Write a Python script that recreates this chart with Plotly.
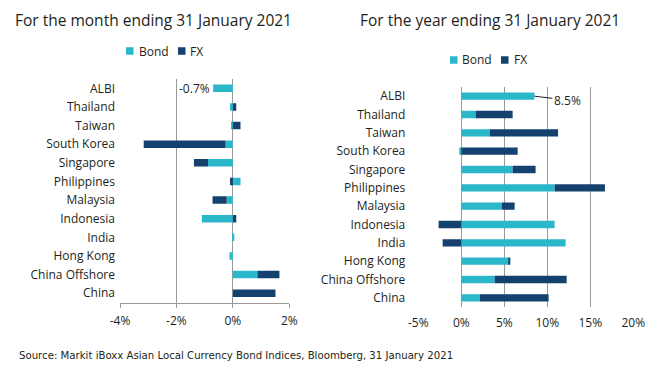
import plotly.graph_objects as go

categories = ["ALBI", "Thailand", "Taiwan", "South Korea", "Singapore", "Philippines",
              "Malaysia", "Indonesia", "India", "Hong Kong", "China Offshore", "China"]
month_bond = [-0.7, -0.1, -0.05, -0.26, -0.88, 0.27, -0.22, -1.1, 0.05, -0.12, 0.87, 0.0]
month_fx = [0.0, 0.12, 0.27, -2.9, -0.5, -0.1, -0.5, 0.12, 0.0, 0.0, 0.78, 1.51]
year_bond = [8.5, 1.67, 3.3, -0.15, 5.97, 10.85, 4.7, 10.85, 12.13, 5.54, 3.88, 2.17]
year_fx = [0.0, 4.3, 7.95, 6.55, 2.67, 5.85, 1.5, -2.64, -2.17, 0.1, 8.37, 7.98]
month_ticks = [-4, -2, 0, 2]
month_ticktext = ["-4%", "-2%", "0%", "2%"]
year_ticks = [-5, 0, 5, 10, 15, 20]
year_ticktext = ["-5%", "0%", "5%", "10%", "15%", "20%"]
series_names = ["Bond", "FX"]

BOND = "#2ab7ca"
FX = "#15416e"
TXT = "#231f20"
GRID = "#9a9a9a"
FONT = "Open Sans"
OFF = 8  # page body margin
W, H = 662 - OFF, 372 - OFF


def px(x):
    return (x - OFF) / W


def py(y):
    return 1 - (y - OFF) / H


fig = go.Figure()
fig.add_trace(go.Bar(y=categories, x=month_bond, orientation="h", name=series_names[0],
                     marker=dict(color=BOND, line=dict(width=0)), xaxis="x", yaxis="y", showlegend=False))
fig.add_trace(go.Bar(y=categories, x=month_fx, orientation="h", name=series_names[1],
                     marker=dict(color=FX, line=dict(width=0)), xaxis="x", yaxis="y", showlegend=False))
fig.add_trace(go.Bar(y=categories, x=year_bond, orientation="h", name=series_names[0],
                     marker=dict(color=BOND, line=dict(width=0)), xaxis="x2", yaxis="y2", showlegend=False))
fig.add_trace(go.Bar(y=categories, x=year_fx, orientation="h", name=series_names[1],
                     marker=dict(color=FX, line=dict(width=0)), xaxis="x2", yaxis="y2", showlegend=False))

tickfont = dict(family=FONT, size=12, color=TXT)
cat_range = [len(categories) - 0.5, -0.5]

# manual legends (small squares + labels)
shapes = []
annotations = []
legend_specs = [
    (126, 51, [(0, BOND, 11, series_names[0]), (52, FX, 62, series_names[1])]),
    (450, 60, [(0, BOND, 10, series_names[0]), (51, FX, 62, series_names[1])]),
]
for x0, yc, items in legend_specs:
    for dx, col, tx, name in items:
        shapes.append(dict(type="rect", xref="paper", yref="paper",
                           x0=px(x0 + dx), x1=px(x0 + dx + 7.5), y0=py(yc + 3.75), y1=py(yc - 3.75),
                           fillcolor=col, line=dict(width=0)))
        annotations.append(dict(text=name, x=px(x0 + tx), y=py(yc), xref="paper", yref="paper",
                                xanchor="left", yanchor="middle", showarrow=False,
                                font=dict(family=FONT, size=12, color=TXT)))

annotations += [
    dict(text="For the month ending 31 January 2021", x=px(14), y=py(8), xref="paper", yref="paper",
         xanchor="left", yanchor="top", borderpad=0, showarrow=False,
         font=dict(family=FONT, size=15.5, color=TXT)),
    dict(text="For the year ending 31 January 2021", x=px(359), y=py(8), xref="paper", yref="paper",
         xanchor="left", yanchor="top", borderpad=0, showarrow=False,
         font=dict(family=FONT, size=15.5, color=TXT)),
    dict(text="Source: Markit iBoxx Asian Local Currency Bond Indices, Bloomberg, 31 January 2021",
         x=px(17), y=py(355), xref="paper", yref="paper", xanchor="left", yanchor="middle",
         showarrow=False, font=dict(family="DejaVu Sans Condensed", size=11.3, color=TXT)),
    dict(text=f"{month_bond[0]:.1f}%", x=month_bond[0], y=categories[0], xref="x", yref="y",
         xanchor="right", yanchor="middle", xshift=-1, showarrow=False,
         font=dict(family=FONT, size=12, color=TXT)),
    dict(text=f"{year_bond[0]:.1f}%", x=year_bond[0], y=categories[0], xref="x2", yref="y2",
         ax=33, ay=4, showarrow=True, arrowhead=0, arrowwidth=1, arrowcolor=TXT,
         font=dict(family=FONT, size=12, color=TXT)),
]

fig.update_layout(
    width=W, height=H,
    margin=dict(l=0, r=0, t=0, b=0),
    paper_bgcolor="white", plot_bgcolor="white",
    barmode="relative", bargap=0.6,
    font=dict(family=FONT, color=TXT, size=12),
    showlegend=False,
    xaxis=dict(domain=[px(120), px(289.3)], range=[-4, 2], tickvals=month_ticks, ticktext=month_ticktext,
               showgrid=True, gridcolor=GRID, gridwidth=1, zeroline=True, zerolinecolor=GRID, zerolinewidth=1,
               showline=True, linecolor=GRID, ticks="outside", ticklen=4, tickcolor=GRID,
               ticklabelstandoff=3, tickfont=tickfont, anchor="y", automargin=False),
    yaxis=dict(domain=[py(302.5), py(79)], range=cat_range, tickfont=tickfont, showgrid=False,
               showline=False, ticks="", ticklabelstandoff=4, anchor="x", automargin=False),
    xaxis2=dict(domain=[px(418.3), px(633.3)], range=[-5, 20], tickvals=year_ticks, ticktext=year_ticktext,
                showgrid=True, gridcolor=GRID, gridwidth=1, zeroline=True, zerolinecolor=GRID, zerolinewidth=1,
                showline=False, ticks="outside", ticklen=5, tickcolor="rgba(0,0,0,0)",
                tickfont=tickfont, anchor="y2", automargin=False),
    yaxis2=dict(domain=[py(307), py(87)], range=cat_range, tickfont=tickfont, showgrid=False,
                showline=False, ticks="", ticklabelstandoff=12, anchor="x2", automargin=False),
    shapes=shapes,
    annotations=annotations,
)

fig.write_html("out.html")
